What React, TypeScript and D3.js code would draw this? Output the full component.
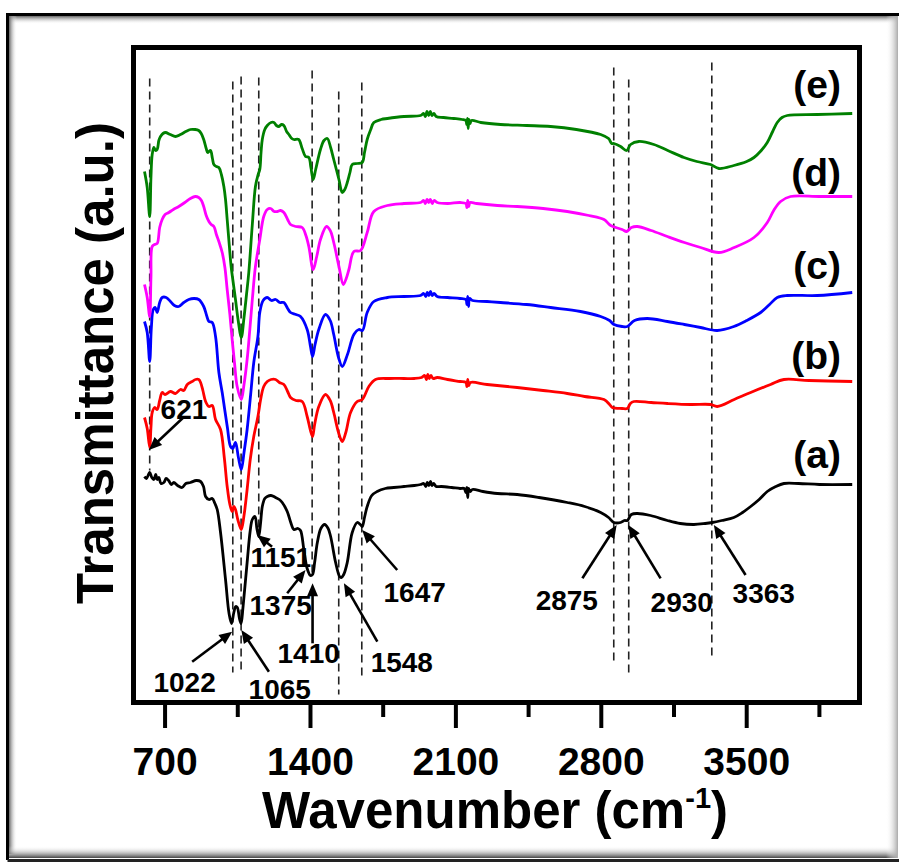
import React from 'react';
import * as d3 from 'd3';

type P = [number, number];

const xTicksMajor = [700, 1400, 2100, 2800, 3500];
const xTicksMinor = [1050, 1750, 2450, 3150, 3850];

const seriesA: P[] = [[601,22.6],[610,22.4],[626,23.0],[636,22.5],[646,22.3],[655,22.8],[662,22.3],[670,22.5],[680,21.9],[694,22.0],[705,22.4],[717,22.2],[730,21.8],[742,22.0],[760,21.7],[782,21.5],[800,21.9],[822,22.0],[850,22.2],[871,22.1],[885,21.6],[895,20.6],[911,20.3],[927,20.4],[940,19.9],[951,19.3],[967,17.0],[991,12.3],[1008,8.9],[1020,7.9],[1031,9.0],[1040,9.6],[1048,9.5],[1058,8.4],[1066,7.9],[1075,9.5],[1095,14.0],[1110,17.2],[1120,18.3],[1133,18.6],[1142,17.4],[1151,16.6],[1160,18.0],[1168,19.6],[1180,20.4],[1192,20.6],[1210,20.7],[1232,20.5],[1250,20.3],[1264,20.0],[1288,19.1],[1305,18.0],[1320,17.3],[1340,17.4],[1352,17.2],[1368,15.3],[1384,13.4],[1400,12.7],[1410,12.8],[1420,14.0],[1433,16.0],[1450,17.4],[1468,17.8],[1485,17.4],[1497,16.6],[1521,14.0],[1540,12.6],[1548,12.5],[1560,12.8],[1577,14.0],[1601,17.0],[1625,18.0],[1640,17.8],[1649,17.6],[1660,18.5],[1673,19.6],[1695,20.7],[1721,21.1],[1760,21.4],[1801,21.5],[1850,21.6],[1900,21.7],[1930,21.8],[1945,21.9],[1955,21.6],[1962,22.0],[1970,21.7],[1978,22.1],[1985,21.7],[1993,21.9],[2005,21.6],[2030,21.6],[2080,21.5],[2120,21.4],[2140,21.4],[2148,21.0],[2153,21.5],[2157,20.5],[2161,21.4],[2168,21.1],[2180,21.3],[2230,21.1],[2300,20.9],[2395,20.8],[2500,20.5],[2636,20.0],[2720,19.6],[2797,19.0],[2835,18.5],[2861,18.0],[2893,18.0],[2912,18.2],[2925,18.2],[2945,18.8],[2973,18.9],[3037,18.7],[3118,18.2],[3180,17.9],[3246,17.8],[3300,17.9],[3334,18.0],[3380,18.2],[3438,18.5],[3480,19.0],[3519,19.6],[3560,20.3],[3599,21.1],[3640,21.6],[3679,21.9],[3750,21.9],[3850,21.8],[4008,21.8]];

const seriesB: P[] = [[601,28.5],[614,27.4],[626,25.5],[632,27.5],[638,29.0],[650,29.5],[662,29.3],[674,30.2],[686,31.0],[700,30.8],[726,31.1],[750,30.9],[774,31.3],[790,31.2],[807,31.8],[830,32.1],[847,32.3],[862,32.3],[871,32.0],[882,31.2],[895,30.1],[911,29.6],[927,29.7],[943,28.3],[967,27.3],[985,24.5],[999,21.6],[1012,19.8],[1023,19.1],[1031,19.6],[1039,19.3],[1050,18.3],[1067,17.3],[1080,18.7],[1095,21.3],[1110,24.3],[1127,26.6],[1147,28.6],[1160,30.3],[1175,31.6],[1192,32.1],[1210,32.3],[1232,32.3],[1250,32.0],[1272,31.8],[1290,31.1],[1304,30.5],[1330,30.2],[1360,30.1],[1384,28.6],[1400,27.2],[1410,26.6],[1420,27.8],[1440,29.6],[1472,30.8],[1495,30.2],[1512,29.0],[1535,27.0],[1553,26.1],[1570,27.0],[1593,29.0],[1625,30.1],[1649,30.3],[1681,31.6],[1713,32.3],[1780,32.4],[1850,32.4],[1900,32.4],[1935,32.5],[1950,32.7],[1958,32.3],[1965,32.8],[1972,32.4],[1980,32.7],[1990,32.4],[2010,32.5],[2060,32.3],[2120,32.1],[2148,32.0],[2153,31.6],[2157,32.3],[2162,31.7],[2170,32.0],[2250,31.8],[2395,31.5],[2520,31.2],[2636,30.9],[2720,30.6],[2813,30.3],[2840,29.8],[2853,29.5],[2900,29.4],[2925,29.4],[2940,29.9],[2957,30.1],[3040,30.0],[3118,29.9],[3230,29.8],[3326,29.8],[3358,29.6],[3440,30.3],[3519,31.0],[3615,31.8],[3679,32.3],[3800,32.2],[4008,32.1]];

const seriesC: P[] = [[601,38.1],[614,37.0],[626,34.1],[634,37.5],[643,39.3],[652,39.5],[662,39.0],[674,40.0],[686,40.5],[705,40.5],[726,40.1],[745,39.7],[766,39.6],[790,40.0],[814,40.3],[840,40.4],[862,40.3],[886,39.6],[900,38.7],[911,38.1],[927,38.0],[943,36.6],[959,33.0],[975,31.0],[987,29.3],[1000,27.5],[1015,25.6],[1026,25.4],[1039,26.0],[1053,24.5],[1067,23.3],[1080,25.0],[1095,27.3],[1112,30.8],[1127,34.0],[1147,36.6],[1156,39.0],[1172,40.2],[1192,40.5],[1212,40.2],[1232,40.3],[1252,40.0],[1272,40.0],[1290,39.4],[1304,39.0],[1330,38.8],[1352,38.6],[1384,37.3],[1400,35.6],[1410,34.6],[1422,35.8],[1440,37.3],[1472,38.8],[1495,38.2],[1512,36.8],[1535,34.5],[1553,33.6],[1578,34.8],[1609,36.8],[1633,37.3],[1650,37.2],[1673,39.0],[1705,40.1],[1770,40.5],[1850,40.6],[1930,40.7],[1945,40.9],[1955,40.6],[1962,41.0],[1970,40.7],[1978,41.1],[1986,40.7],[1995,40.9],[2010,40.6],[2060,40.5],[2120,40.4],[2148,40.3],[2153,39.8],[2157,40.6],[2161,39.6],[2166,40.4],[2180,40.2],[2250,40.1],[2315,40.0],[2440,39.8],[2556,39.5],[2700,39.1],[2797,38.6],[2840,38.2],[2861,37.8],[2900,37.6],[2925,37.6],[2960,38.2],[3021,38.4],[3118,38.1],[3200,37.8],[3278,37.5],[3358,37.2],[3438,37.6],[3500,38.2],[3567,39.0],[3610,39.8],[3647,40.5],[3695,40.7],[3840,40.7],[4008,41.0]];

const seriesD: P[] = [[601,41.8],[614,40.5],[626,38.6],[632,42.5],[638,45.6],[650,45.8],[662,45.9],[674,47.5],[686,48.3],[700,48.8],[718,49.0],[740,49.3],[766,49.6],[795,50.0],[822,50.4],[845,50.6],[862,50.5],[875,50.2],[886,49.6],[898,48.7],[911,48.1],[922,47.8],[935,47.6],[947,46.8],[959,46.1],[975,45.0],[988,43.5],[999,41.3],[1012,38.8],[1023,36.3],[1035,33.8],[1047,31.6],[1067,30.3],[1080,31.8],[1095,34.3],[1108,37.3],[1120,40.3],[1135,43.6],[1156,46.3],[1175,48.6],[1192,49.3],[1208,49.4],[1225,49.1],[1240,49.1],[1256,49.2],[1272,49.0],[1290,48.3],[1304,47.8],[1330,47.6],[1360,47.5],[1378,46.7],[1392,45.6],[1413,43.3],[1430,44.6],[1448,46.3],[1477,47.6],[1495,47.2],[1512,46.0],[1537,43.6],[1558,41.8],[1572,42.4],[1585,43.3],[1609,45.1],[1641,45.2],[1673,47.0],[1705,49.1],[1770,49.7],[1850,49.9],[1930,50.0],[1945,50.2],[1953,49.9],[1961,50.3],[1969,50.0],[1977,50.3],[1986,49.9],[1995,50.2],[2010,50.0],[2060,49.9],[2120,50.0],[2148,49.9],[2153,49.5],[2157,50.2],[2162,49.6],[2168,50.0],[2200,49.9],[2300,49.7],[2395,49.6],[2520,49.4],[2636,49.1],[2740,48.7],[2813,48.3],[2845,47.7],[2900,47.3],[2922,47.1],[2945,47.5],[2973,47.6],[3040,47.2],[3118,46.6],[3200,46.0],[3278,45.5],[3366,45.0],[3440,45.5],[3535,46.5],[3599,48.0],[3630,49.2],[3663,50.1],[3711,50.6],[3850,50.6],[4008,50.6]];

const seriesE: P[] = [[601,53.1],[614,51.5],[626,48.6],[632,52.5],[638,54.8],[646,55.5],[654,55.2],[662,55.3],[670,56.2],[678,56.6],[690,56.9],[702,57.0],[725,56.8],[750,56.6],[774,56.8],[800,57.1],[822,57.3],[845,57.3],[862,57.2],[874,56.9],[886,56.3],[898,55.4],[905,55.0],[911,55.1],[919,55.2],[928,54.4],[935,53.8],[947,53.6],[959,53.5],[971,52.8],[983,51.6],[991,50.3],[999,48.3],[1010,45.5],[1018,43.6],[1026,42.3],[1039,40.3],[1052,38.2],[1067,36.5],[1080,38.5],[1092,40.8],[1103,43.0],[1120,47.8],[1135,51.6],[1148,52.8],[1156,53.3],[1162,55.0],[1168,56.3],[1180,57.3],[1192,57.7],[1210,58.0],[1224,58.0],[1236,57.7],[1248,57.6],[1260,57.8],[1272,57.7],[1285,57.1],[1296,56.8],[1310,56.4],[1320,56.3],[1343,56.3],[1360,55.4],[1376,54.6],[1392,54.5],[1402,53.5],[1413,52.3],[1425,53.3],[1448,55.3],[1465,56.2],[1481,56.4],[1497,55.5],[1512,54.3],[1537,52.3],[1553,51.0],[1565,51.3],[1577,52.0],[1590,53.0],[1601,53.8],[1625,53.9],[1649,54.0],[1660,55.0],[1673,56.3],[1690,57.3],[1705,58.0],[1740,58.3],[1770,58.4],[1850,58.6],[1930,58.7],[1945,58.9],[1953,58.6],[1961,59.1],[1969,58.7],[1977,59.1],[1985,58.7],[1994,58.9],[2005,58.6],[2040,58.5],[2090,58.4],[2130,58.3],[2148,58.2],[2152,57.8],[2156,58.4],[2159,57.4],[2163,58.3],[2168,57.9],[2175,58.2],[2220,58.0],[2315,57.8],[2440,57.7],[2556,57.6],[2680,57.3],[2797,56.8],[2835,56.4],[2850,55.9],[2861,55.9],[2893,55.6],[2922,55.2],[2941,55.8],[2981,56.1],[3053,55.8],[3120,55.2],[3198,54.5],[3260,54.1],[3326,53.8],[3366,53.4],[3438,53.7],[3500,54.1],[3535,54.5],[3570,55.2],[3599,56.0],[3625,57.1],[3647,58.0],[3670,58.5],[3695,58.7],[3840,58.8],[4008,58.9]];

const seriesNames = ['(a)', '(b)', '(c)', '(d)', '(e)'];
const seriesColors = ['#000000', '#ff0000', '#0000ff', '#ff00ff', '#008000'];
const seriesLabelLevels = [23.5, 33.4, 42.4, 51.7, 60.5];

// dashed guide lines: [wavenumber, top value, bottom value]
const guideWn = [626, 1026, 1066, 1151, 1408, 1536, 1647, 2860, 2932, 3332];
const guideTop = [62.4, 62.1, 62.6, 62.5, 63.2, 61.1, 62.0, 63.5, 62.3, 64.0];
const guideBottom = [23.2, 3.0, 2.8, 17.5, 12.8, 0.8, 2.6, 4.1, 3.0, 4.6];

// annotations: label, tip wavenumber, tip value, tail offset, text offset (px)
const annLabels = ['621', '1022', '1065', '1151', '1375', '1410', '1548', '1647', '2875', '2930', '3363'];
const annWn = [622, 1023, 1067, 1143, 1376, 1410, 1561, 1649, 2874, 2930, 3342];
const annVal = [25.25, 7.08, 7.25, 16.75, 13.25, 11.92, 11.92, 17.25, 17.75, 17.75, 17.75];
const annTail: P[] = [[35, -33], [-40, 30], [27.6, 41.7], [15, 11.7], [-18.3, 23.3], [0, 60], [33.4, 58.4], [35, 40], [-34.3, 53.3], [32.3, 53.3], [31.7, 50]];
const annText: P[] = [[11.7, -31], [-78.7, 60.3], [7.3, 69], [-6.7, 32], [-56, 45], [-35, 79.7], [26.7, 88.7], [21.3, 72], [-81, 85], [22.3, 87], [18.7, 78]];

const FONT = '"Liberation Sans", Arial, Helvetica, sans-serif';

export default function App() {
  const W = 901, H = 863;
  const left = 133.5, right = 859.5, top = 47.5, bottom = 702.5;
  const x = d3.scaleLinear().domain([548, 4043]).range([left, right]);
  const y = d3.scaleLinear().domain([0, 65.5]).range([bottom, top]);
  const line = d3.line<P>().x(d => x(d[0])).y(d => y(d[1])).curve(d3.curveCatmullRom.alpha(0.5));
  const series = [seriesA, seriesB, seriesC, seriesD, seriesE];

  const arrowHead = (x1: number, y1: number, x2: number, y2: number) => {
    const ang = Math.atan2(y2 - y1, x2 - x1);
    const L = 13, Wd = 5.5;
    const bx = x2 - L * Math.cos(ang), by = y2 - L * Math.sin(ang);
    const px = -Math.sin(ang) * Wd, py = Math.cos(ang) * Wd;
    return `M${x2},${y2}L${bx + px},${by + py}L${bx - px},${by - py}Z`;
  };

  return (
    <svg width={W} height={H} style={{ position: 'absolute', left: 0, top: 0, background: '#fff' }} fontFamily={FONT}>
      <defs>
        <linearGradient id="shTop" x1="0" y1="0" x2="0" y2="1">
          <stop offset="0" stopColor="#666" />
          <stop offset="1" stopColor="#fff" stopOpacity="0" />
        </linearGradient>
        <linearGradient id="shLeft" x1="0" y1="0" x2="1" y2="0">
          <stop offset="0" stopColor="#666" />
          <stop offset="1" stopColor="#fff" stopOpacity="0" />
        </linearGradient>
        <linearGradient id="shBottom" x1="0" y1="1" x2="0" y2="0">
          <stop offset="0" stopColor="#444" />
          <stop offset="1" stopColor="#fff" stopOpacity="0" />
        </linearGradient>
        <linearGradient id="shRight" x1="1" y1="0" x2="0" y2="0">
          <stop offset="0" stopColor="#aaa" />
          <stop offset="1" stopColor="#fff" stopOpacity="0" />
        </linearGradient>
      </defs>
      <rect x={0} y={0} width={W} height={H} fill="#fff" />
      {/* outer picture frame with shadow */}
      <rect x={9} y={16} width={888} height={8} fill="url(#shTop)" />
      <rect x={9} y={16} width={8} height={838} fill="url(#shLeft)" />
      <rect x={9} y={846} width={888} height={12} fill="url(#shBottom)" />
      <rect x={886} y={16} width={12} height={842} fill="url(#shRight)" />
      <path d={`M7.5,860V14.5H899`} fill="none" stroke="#000" strokeWidth={3} />
      <path d={`M7.5,860.5H899`} fill="none" stroke="#222" strokeWidth={3} />

      {/* guide lines */}
      {guideWn.map((w, i) => (
        <line key={'g' + i} x1={x(w)} x2={x(w)} y1={y(guideTop[i])} y2={y(guideBottom[i])}
          stroke="#222" strokeWidth={1.6} strokeDasharray="8,5" />
      ))}

      {/* spectra */}
      {series.map((s, i) => (
        <path key={'s' + i} d={line(s) || ''} fill="none" stroke={seriesColors[i]} strokeWidth={2.8} strokeLinejoin="round" />
      ))}

      {/* series labels */}
      {seriesNames.map((n, i) => (
        <text key={'n' + i} x={841} y={y(seriesLabelLevels[i])} textAnchor="end" fontSize={39} fontWeight="bold" fill="#000">{n}</text>
      ))}

      {/* annotations */}
      {annLabels.map((lab, i) => {
        const tx = x(annWn[i]), ty = y(annVal[i]);
        const sx = tx + annTail[i][0], sy = ty + annTail[i][1];
        return (
          <g key={'a' + i}>
            <line x1={sx} y1={sy} x2={tx - (tx - sx) * 0.15} y2={ty - (ty - sy) * 0.15} stroke="#000" strokeWidth={2.6} />
            <path d={arrowHead(sx, sy, tx, ty)} fill="#000" />
            <text x={tx + annText[i][0]} y={ty + annText[i][1]} fontSize={28} fontWeight="bold" fill="#000">{lab}</text>
          </g>
        );
      })}

      {/* plot frame */}
      <rect x={left} y={top} width={right - left} height={bottom - top} fill="none" stroke="#000" strokeWidth={5} />

      {/* x ticks */}
      {xTicksMajor.map(t => (
        <line key={'M' + t} x1={x(t)} x2={x(t)} y1={bottom} y2={bottom + 25.5} stroke="#000" strokeWidth={4} />
      ))}
      {xTicksMinor.map(t => (
        <line key={'m' + t} x1={x(t)} x2={x(t)} y1={bottom} y2={bottom + 14.5} stroke="#000" strokeWidth={4} />
      ))}
      {xTicksMajor.map(t => (
        <text key={'L' + t} x={x(t)} y={775} textAnchor="middle" fontSize={39} fontWeight="bold" fill="#000">{t}</text>
      ))}

      {/* axis titles */}
      <text x={495} y={828} textAnchor="middle" fontSize={51} fontWeight="bold" fill="#000">
        Wavenumber (cm<tspan fontSize={29} dy={-20}>-1</tspan><tspan dy={20}>)</tspan>
      </text>
      <text transform={`translate(113,363) rotate(-90)`} textAnchor="middle" fontSize={51} fontWeight="bold" fill="#000">
        Transmittance (a.u.)
      </text>
    </svg>
  );
}
